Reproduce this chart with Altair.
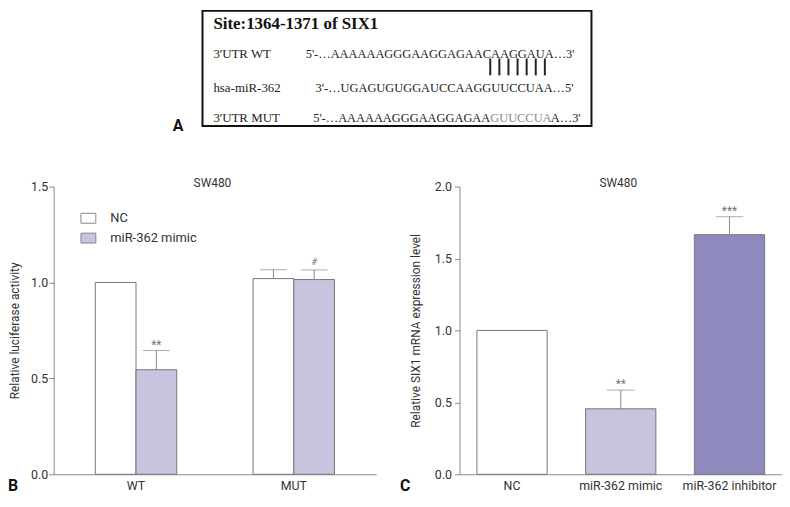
import altair as alt
import pandas as pd

# ---------------- data ----------------
# Panel A (sequence alignment)
site_title = "Site:1364-1371 of SIX1"
row_labels = ["3'UTR WT", "hsa-miR-362", "3'UTR MUT"]
seq_wt = "5'-\u2026AAAAAAGGGAAGGAGAACAAGGAUA\u20263'"
seq_mir = "3'-\u2026UGAGUGUGGAUCCAAGGUUCCUAA\u20265'"
seq_mut = ["5'-\u2026AAAAAAGGGAAGGAGAA", "GUUCCUA", "A\u20263'"]
n_pairs = 7

# Panel B (luciferase)
b_groups = ["WT", "MUT"]
b_series = ["NC", "miR-362 mimic"]
b_group_col = ["WT", "WT", "MUT", "MUT"]
b_series_col = ["NC", "miR-362 mimic", "NC", "miR-362 mimic"]
b_values = [1.0, 0.545, 1.02, 1.015]
b_errors = [0.0, 0.10, 0.046, 0.05]
b_sig = ["", "**", "", "#"]
b_ticks = [0.0, 0.5, 1.0, 1.5]

# Panel C (mRNA)
c_groups = ["NC", "miR-362 mimic", "miR-362 inhibitor"]
c_values = [1.0, 0.455, 1.665]
c_errors = [0.0, 0.13, 0.125]
c_sig = ["", "**", "***"]
c_ticks = [0.0, 0.5, 1.0, 1.5, 2.0]

cell_line = "SW480"

# ---------------- style ----------------
SANS = "Roboto, Liberation Sans, sans-serif"
SERIF = "Liberation Serif, Times New Roman, serif"
GRAY = "#888888"
TXT = "#333333"
W, H = 325, 290


def txt(s, x, y, **kw):
    return alt.Chart(pd.DataFrame({"t": [s]})).mark_text(**kw).encode(
        x=alt.value(x), y=alt.value(y), text="t:N")


# ---------------- panel B ----------------
dfb = pd.DataFrame({"group": b_group_col, "series": b_series_col,
                    "value": b_values, "err": b_errors, "sig": b_sig})
baseB = alt.Chart(dfb)
xB = alt.X("group:N", sort=b_groups,
           scale=alt.Scale(domain=b_groups, paddingInner=0.484, paddingOuter=0.264),
           axis=alt.Axis(title=None, labelAngle=0, ticks=False, tickSize=0,
                         labelPadding=5))
xoB = alt.XOffset("series:N", sort=b_series,
                  scale=alt.Scale(domain=b_series, paddingInner=0, paddingOuter=0))
yB = alt.Y("value:Q", scale=alt.Scale(domain=[0, 1.5], nice=False),
           axis=alt.Axis(title="Relative luciferase activity", values=b_ticks,
                         format=".1f", tickSize=5, labelPadding=1, titlePadding=9))
topB = alt.Y("top:Q")

barsB = baseB.mark_bar(stroke="#777777", strokeWidth=1).encode(
    x=xB, xOffset=xoB, y=yB,
    color=alt.Color("series:N", sort=b_series,
                    scale=alt.Scale(domain=b_series, range=["#ffffff", "#c6c4de"]),
                    legend=alt.Legend(orient="none", legendX=27, legendY=24,
                                      direction="vertical", title=None,
                                      symbolType="M-1,-0.667H1V0.667H-1Z",
                                      symbolSize=225, symbolStrokeColor=GRAY,
                                      symbolStrokeWidth=1, labelFont=SANS,
                                      labelFontSize=13, labelColor=TXT,
                                      labelOffset=14, rowPadding=4, padding=0)))
errB = baseB.transform_filter("datum.err > 0").transform_calculate(
    top="datum.value + datum.err")
ruleB = errB.mark_rule(color=GRAY, strokeWidth=1).encode(
    x=xB, xOffset=xoB, y=yB, y2="top:Q")
capB = errB.mark_tick(color=GRAY, size=27, thickness=1, orient="horizontal").encode(
    x=xB, xOffset=xoB, y=topB)
starB = errB.transform_filter("indexof(datum.sig, '*') >= 0").mark_text(
    dy=-6, fontSize=12, color="#777777", font=SANS).encode(
    x=xB, xOffset=xoB, y=topB, text="sig:N")
hashB = errB.transform_filter("datum.sig == '#'").mark_text(
    dy=-8, fontSize=9, fontStyle="italic", color="#777777", font=SANS).encode(
    x=xB, xOffset=xoB, y=topB, text="sig:N")

titleB = txt(cell_line, 160, 0, font=SANS, fontSize=12, color=TXT,
             align="center", baseline="alphabetic")
labelB = txt("B", -46, 307, font=SANS, fontSize=16, fontWeight="bold",
             color="#111111", align="left", baseline="alphabetic")

# panel A drawn in B's layer (pixel layout)
box = alt.Chart(pd.DataFrame({"k": [0]})).mark_rect(
    fill="white", stroke="#111111", strokeWidth=2).encode(
    x=alt.value(150), x2=alt.value(542), y=alt.value(-177), y2=alt.value(-61))
a_layers = [box]
a_layers.append(txt("A", 120, -56, font=SANS, fontSize=16, fontWeight="bold",
                    color="#111111", align="left", baseline="alphabetic"))
a_layers.append(txt(site_title, 161, -164, font=SERIF, fontSize=17,
                    fontWeight="bold", color="#111111", align="left",
                    baseline="middle"))
row_y = [-134, -99, -69]
for lab, yy in zip(row_labels, row_y):
    a_layers.append(txt(lab, 161, yy, font=SERIF, fontSize=13, color="#222222",
                        align="left", baseline="middle"))
a_layers.append(txt(seq_wt, 254, row_y[0], font=SERIF, fontSize=12.5,
                    color="#222222", align="left", baseline="middle"))
a_layers.append(txt(seq_mir, 264, row_y[1], font=SERIF, fontSize=12.5,
                    color="#222222", align="left", baseline="middle"))
a_layers.append(txt(seq_mut[0], 440, row_y[2], font=SERIF, fontSize=12.5,
                    color="#222222", align="right", baseline="middle"))
a_layers.append(txt(seq_mut[1], 440, row_y[2], font=SERIF, fontSize=12.5,
                    color="#8a8a8a", align="left", baseline="middle"))
a_layers.append(txt(seq_mut[2], 501, row_y[2], font=SERIF, fontSize=12.5,
                    color="#222222", align="left", baseline="middle"))
for i in range(n_pairs):
    xx = 440 + i * 55 / (n_pairs - 1)
    a_layers.append(alt.Chart(pd.DataFrame({"k": [i]})).mark_rule(
        color="#222222", strokeWidth=2).encode(
        x=alt.value(xx), y=alt.value(-129), y2=alt.value(-112)))

chartB = alt.layer(barsB, ruleB, capB, starB, hashB, titleB, labelB,
                   *a_layers).properties(width=W, height=H)

# ---------------- panel C ----------------
dfc = pd.DataFrame({"cat": c_groups, "value": c_values, "err": c_errors, "sig": c_sig})
baseC = alt.Chart(dfc)
xC = alt.X("cat:N", sort=c_groups,
           scale=alt.Scale(domain=c_groups, paddingInner=0.354, paddingOuter=0.16),
           axis=alt.Axis(title=None, labelAngle=0, ticks=False, tickSize=0,
                         labelPadding=5))
yC = alt.Y("value:Q", scale=alt.Scale(domain=[0, 2.0], nice=False),
           axis=alt.Axis(title="Relative SIX1 mRNA expression level", values=c_ticks,
                         format=".1f", tickSize=5, labelPadding=3, titlePadding=12))
topC = alt.Y("top:Q")
barsC = baseC.mark_bar(stroke="#777777", strokeWidth=1).encode(
    x=xC, y=yC,
    color=alt.Color("cat:N", sort=c_groups,
                    scale=alt.Scale(domain=c_groups,
                                    range=["#ffffff", "#c6c4de", "#8e8abd"]),
                    legend=None))
errC = baseC.transform_filter("datum.err > 0").transform_calculate(
    top="datum.value + datum.err")
ruleC = errC.mark_rule(color=GRAY, strokeWidth=1).encode(
    x=xC, y=yC, y2="top:Q")
capC = errC.mark_tick(color=GRAY, size=28, thickness=1, orient="horizontal").encode(
    x=xC, y=topC)
starC = errC.mark_text(dy=-6, fontSize=12, color="#777777", font=SANS).encode(
    x=xC, y=topC, text="sig:N")
titleC = txt(cell_line, 160, 0, font=SANS, fontSize=12, color=TXT,
             align="center", baseline="alphabetic")
labelC = txt("C", -60, 307, font=SANS, fontSize=16, fontWeight="bold",
             color="#111111", align="left", baseline="alphabetic")
chartC = alt.layer(barsC, ruleC, capC, starC, titleC, labelC).properties(
    width=W, height=H)

chart = alt.hconcat(chartB, chartC, spacing=84, bounds="flush").resolve_scale(
    color="independent").properties(padding=0).configure_view(
    stroke=None).configure_axis(
    grid=False, domainColor=GRAY, tickColor=GRAY, labelColor=TXT, titleColor=TXT,
    labelFont=SANS, titleFont=SANS, labelFontSize=12.5, titleFontSize=12,
    titleFontWeight="normal")

chart.save("out.html", embed_options={"renderer": "svg", "actions": False})
